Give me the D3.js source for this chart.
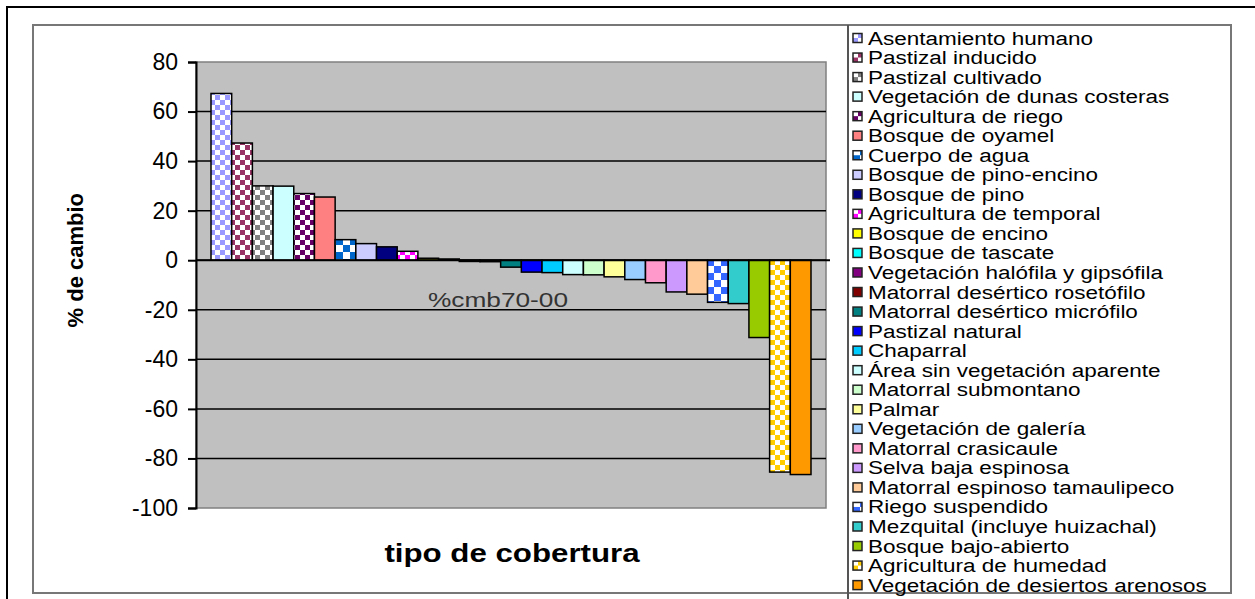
<!DOCTYPE html>
<html>
<head>
<meta charset="utf-8">
<script src="https://cdn.jsdelivr.net/npm/d3@7"></script>
<style>
  body { margin: 0; background: white; }
  text { font-family: "Liberation Sans", Arial, sans-serif; }
</style>
</head>
<body>
<script>
/*** Data ***/

const categories = [
  "Asentamiento humano", "Pastizal inducido", "Pastizal cultivado",
  "Vegetación de dunas costeras", "Agricultura de riego", "Bosque de oyamel",
  "Cuerpo de agua", "Bosque de pino-encino", "Bosque de pino",
  "Agricultura de temporal", "Bosque de encino", "Bosque de tascate",
  "Vegetación halófila y gipsófila", "Matorral desértico rosetófilo",
  "Matorral desértico micrófilo", "Pastizal natural", "Chaparral",
  "Área sin vegetación aparente", "Matorral submontano", "Palmar",
  "Vegetación de galería", "Matorral crasicaule", "Selva baja espinosa",
  "Matorral espinoso tamaulipeco", "Riego suspendido",
  "Mezquital (incluye huizachal)", "Bosque bajo-abierto",
  "Agricultura de humedad", "Vegetación de desiertos arenosos"
]

const values = [
  67.3, 47.3, 30.0, 29.9, 26.9, 25.5, 8.3, 6.7, 5.4, 3.6,
  0.8, 0.5, -0.5, -0.6, -2.8, -4.8, -5.0, -5.8, -5.9, -6.7,
  -7.8, -9.1, -12.8, -13.7, -17.0, -17.5, -31.2, -85.5, -86.5
]

const yTicks = [80, 60, 40, 20, 0, -20, -40, -60, -80, -100]
const seriesLabel = "%cmb70-00"

// excel palette, one per series; check = size of checker squares (0 = solid)
const colors = [
  "#9999ff", "#993366", "#808080", "#ccffff", "#660066", "#ff8080",
  "#0066cc", "#ccccff", "#000080", "#ff00ff", "#ffff00", "#00ffff",
  "#800080", "#800000", "#008080", "#0000ff", "#00ccff", "#ccffff",
  "#ccffcc", "#ffff99", "#99ccff", "#ff99cc", "#cc99ff", "#ffcc99",
  "#3366ff", "#33cccc", "#99cc00", "#ffcc00", "#ff9900"
]
const checks = [5, 5, 5, 0, 5, 0, 7, 0, 0, 5, 0, 0, 0, 0, 0, 0, 0, 0, 0, 0, 0, 0, 0, 0, 7, 0, 0, 5, 0]

const svgWidth = 1255
const svgHeight = 599

const plotLeft = 196
const plotRight = 826
const plotTop = 62
const plotBottom = 508

const SX = 1.25 // the picture is stretched sideways, so is the text

let svg = d3.select("body")
  .append("svg")
  .attr("width", svgWidth)
  .attr("height", svgHeight)

// patterns
let defs = svg.append("defs")
colors.forEach((c, i) => {
  if (!checks[i]) return
  let s = checks[i]
  let p = defs.append("pattern")
    .attr("id", "chk" + i)
    .attr("patternUnits", "userSpaceOnUse")
    .attr("width", s * 2)
    .attr("height", s * 2)
  p.append("rect").attr("width", s * 2).attr("height", s * 2).attr("fill", "white")
  p.append("rect").attr("width", s).attr("height", s).attr("fill", c)
  p.append("rect").attr("x", s).attr("y", s).attr("width", s).attr("height", s).attr("fill", c)
})
const fillOf = (i) => checks[i] ? `url(#chk${i})` : colors[i]

function stretchText(parent, x, y, str) {
  return parent.append("text")
    .attr("transform", `translate(${x},${y}) scale(${SX},1)`)
    .text(str)
}

// outer frame and chart area
svg.append("path")
  .attr("d", `M7,${svgHeight} V7 H${svgWidth}`)
  .attr("fill", "none")
  .attr("stroke", "black")
  .attr("stroke-width", 2)

svg.append("rect")
  .attr("x", 33).attr("y", 25)
  .attr("width", 1231 - 33).attr("height", 593 - 25)
  .attr("fill", "white")
  .attr("stroke", "#777")
  .attr("stroke-width", 2)

/* Scales */
let yScale = d3.scaleLinear()
  .domain([-100, 80])
  .range([plotBottom, plotTop])

let xScale = d3.scaleBand()
  .domain(categories)
  .range([plotLeft + 15, plotRight - 15])
  .padding(0)

// plot area
svg.append("rect")
  .attr("x", plotLeft).attr("y", plotTop)
  .attr("width", plotRight - plotLeft).attr("height", plotBottom - plotTop)
  .attr("fill", "#c0c0c0")
  .attr("stroke", "#808080")
  .attr("stroke-width", 1.5)

// gridlines
svg.append("g")
  .selectAll("line")
  .data(yTicks.filter(t => t < 80 && t > -100))
  .enter()
  .append("line")
  .attr("x1", plotLeft).attr("x2", plotRight)
  .attr("y1", d => yScale(d)).attr("y2", d => yScale(d))
  .attr("stroke", "black")
  .attr("stroke-width", 1.5)

// series label sits in the plot, on the category axis
stretchText(svg, (plotLeft + plotRight) / 2 - 13, yScale(-20) - 3, seriesLabel)
  .attr("text-anchor", "middle")
  .attr("fill", "#333")
  .style("font-size", "21px")

/* Bars */
svg.append("g")
  .selectAll("rect")
  .data(values)
  .enter()
  .append("rect")
  .attr("x", (d, i) => xScale(categories[i]))
  .attr("y", d => Math.min(yScale(d), yScale(0)))
  .attr("width", xScale.bandwidth())
  .attr("height", d => Math.abs(yScale(d) - yScale(0)))
  .attr("fill", (d, i) => fillOf(i))
  .attr("stroke", "black")
  .attr("stroke-width", 1.5)

// category axis at zero
svg.append("line")
  .attr("x1", plotLeft).attr("x2", plotRight + 4)
  .attr("y1", yScale(0)).attr("y2", yScale(0))
  .attr("stroke", "black")
  .attr("stroke-width", 2)

/* Value axis */
let leftAxis = d3.axisLeft(yScale)
  .tickValues(yTicks)
  .tickSize(8)
  .tickPadding(10)
  .tickFormat(d => d)

let yAxis = svg.append("g")
  .attr("transform", `translate(${plotLeft}, 0)`)
  .call(leftAxis)

yAxis.select(".domain").attr("stroke", "black").attr("stroke-width", 2)
yAxis.selectAll("line").attr("stroke", "black").attr("stroke-width", 2)
yAxis.selectAll("text")
  .attr("x", -18)
  .attr("fill", "black")
  .style("font-family", "'Liberation Sans', Arial, sans-serif")
  .style("font-size", "23px")

// axis titles
svg.append("text")
  .attr("transform", `translate(83, ${yScale(0)}) rotate(-90)`)
  .attr("text-anchor", "middle")
  .style("font-size", "22px")
  .style("font-weight", "bold")
  .text("% de cambio")

stretchText(svg, 512, 562, "tipo de cobertura")
  .attr("text-anchor", "middle")
  .style("font-size", "25px")
  .style("font-weight", "bold")

/* Legend */
svg.append("line")
  .attr("x1", 848).attr("x2", 848)
  .attr("y1", 25).attr("y2", svgHeight)
  .attr("stroke", "#555")
  .attr("stroke-width", 2)

let legend = svg.append("g")
  .selectAll("g")
  .data(categories)
  .enter()
  .append("g")
  .attr("transform", (d, i) => `translate(853, ${38 + i * 19.54})`)

legend.append("rect")
  .attr("x", 0).attr("y", -4.5)
  .attr("width", 9).attr("height", 9)
  .attr("fill", (d, i) => fillOf(i))
  .attr("stroke", "#222")
  .attr("stroke-width", 1.5)

legend.append("text")
  .attr("transform", `translate(15, 6.5) scale(${SX},1)`)
  .style("font-size", "18px")
  .attr("fill", "black")
  .text(d => d)
</script>
</body>
</html>
